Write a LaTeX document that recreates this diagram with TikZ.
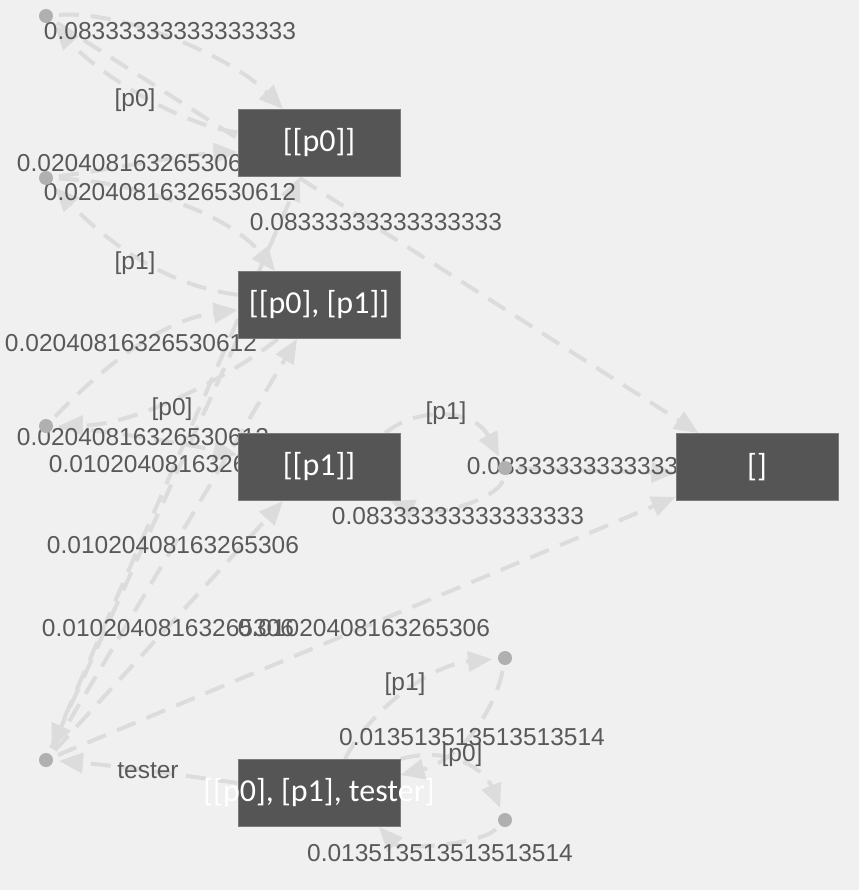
\documentclass[tikz,border=0pt]{standalone}
\usepackage{fontspec}
\setmainfont{Liberation Sans}
\newfontfamily\boxfont{Carlito}
\usetikzlibrary{arrows.meta}
\definecolor{bgcol}{HTML}{F0F0F0}
\definecolor{boxcol}{HTML}{555555}
\definecolor{boxline}{HTML}{7A7A7A}
\definecolor{edgecol}{HTML}{DCDCDC}
\definecolor{dotcol}{HTML}{B0B0B0}
\definecolor{lblcol}{HTML}{595959}
\pgfdeclarelayer{edges}
\pgfsetlayers{edges,main}
\begin{document}
\begin{tikzpicture}[x=1pt, y=-1pt,
    state/.style={draw=boxline, line width=1pt, fill=boxcol, minimum width=162pt, minimum height=67pt, inner sep=0pt, text=white, font=\boxfont\fontsize{32}{38}\selectfont},
    act/.style={circle, fill=dotcol, minimum size=14pt, inner sep=0pt, outer sep=6pt},
    prob/.style={text=lblcol, inner sep=0pt, font=\fontsize{24.5}{29}\selectfont},
    trans/.style={draw=edgecol, line width=4pt, dash pattern=on 20pt off 12pt, -{Triangle[length=24pt, width=20pt]}}]
      \node[state] (s0) at (319,143) {[[p0]]};
      \node[state] (s1) at (319,305) {[[p0], [p1]]};
      \node[state] (s2) at (319,467) {[[p1]]};
      \node[state] (s3) at (757,467) {[]};
      \node[state] (s4) at (319,793) {\makebox[0pt]{[[p0], [p1], tester]}};

      \node[act] (a0) at (46,16) {};
      \node[act] (a1) at (46,178) {};
      \node[act] (a2) at (46,426) {};
      \node[act] (a3) at (505,468) {};
      \node[act] (a4) at (46,760) {};
      \node[act] (a5) at (505,658) {};
      \node[act] (a6) at (505,820) {};

      \begin{pgfonlayer}{edges}
      \fill[bgcol] (0,0) rectangle (859,890);

      \draw[trans] (s0) .. controls (180,125) and (100,75) .. (a0);
      \draw[trans] (a0) .. controls (120,10) and (230,55) .. ([xshift=-36pt]s0.north);
      \draw[trans] (a0) -- ([xshift=23pt]s3.north west);
      \draw[trans] (s1) .. controls (160,285) and (100,235) .. (a1);
      \draw[trans] (a1) .. controls (120,168) and (180,155) .. ([yshift=-9pt]s0.west);
      \draw[trans] (a1) .. controls (140,182) and (230,215) .. ([xshift=-44pt]s1.north);
      \draw[trans] (s1) .. controls (240,370) and (140,425) .. (a2);
      \draw[trans] (a2) .. controls (100,370) and (160,320) .. ([yshift=-5pt]s1.west);
      \draw[trans] (a2) .. controls (120,432) and (190,445) .. ([yshift=12pt]s2.west);
      \draw[trans] (s1.south west) -- (a4);
      \draw[trans] (a4) -- ([xshift=-19pt]s0.south);
      \draw[trans] (a4) -- ([xshift=-22pt]s1.south);
      \draw[trans] (a4) -- ([xshift=-36pt]s2.south);
      \draw[trans] (a4) -- ([yshift=-30pt]s3.west);
      \draw[trans] ([xshift=66pt]s2.north) .. controls (420,405) and (475,410) .. (a3);
      \draw[trans] (a3) -- ([yshift=-6pt]s3.west);
      \draw[trans] (a3) .. controls (500,495) and (440,520) .. ([xshift=-10pt]s2.south east);
      \draw[trans] ([xshift=26pt]s4.north) .. controls (370,710) and (430,665) .. (a5);
      \draw[trans] (a5) .. controls (495,710) and (460,760) .. ([yshift=18pt]s4.east);
      \draw[trans] (s4.north east) .. controls (450,745) and (485,770) .. (a6);
      \draw[trans] (a6) .. controls (480,845) and (400,850) .. ([xshift=60pt]s4.south);
      \draw[trans] ([yshift=10pt]s4.west) .. controls (180,775) and (110,765) .. (a4);

      \node[prob] (q0) at (170,31) {0.08333333333333333};
      \node[prob] (q1) at (135,100) {[p0]};
      \node[prob] (q2) at (143,163) {0.02040816326530612};
      \node[prob] (q3) at (170,192) {0.02040816326530612};
      \node[prob] (q4) at (376,222) {0.08333333333333333};
      \node[prob] (q5) at (135,263) {[p1]};
      \node[prob] (q6) at (131,343) {0.02040816326530612};
      \node[prob] (q7) at (172,409) {[p0]};
      \node[prob] (q8) at (143,437) {0.02040816326530612};
      \node[prob] (q9) at (175,464) {0.01020408163265306};
      \node[prob] (q10) at (446,413) {[p1]};
      \node[prob] (q11) at (593,466) {0.08333333333333333};
      \node[prob] (q12) at (458,516) {0.08333333333333333};
      \node[prob] (q13) at (173,545) {0.01020408163265306};
      \node[prob] (q14) at (168,628) {0.01020408163265306};
      \node[prob] (q15) at (364,628) {0.01020408163265306};
      \node[prob] (q16) at (405,684) {[p1]};
      \node[prob] (q17) at (472,737) {0.013513513513513514};
      \node[prob] (q18) at (462,755) {[p0]};
      \node[prob] (q19) at (148,771) {tester};
      \node[prob] (q20) at (440,853) {0.013513513513513514};
      \end{pgfonlayer}
    \end{tikzpicture}
\end{document}
